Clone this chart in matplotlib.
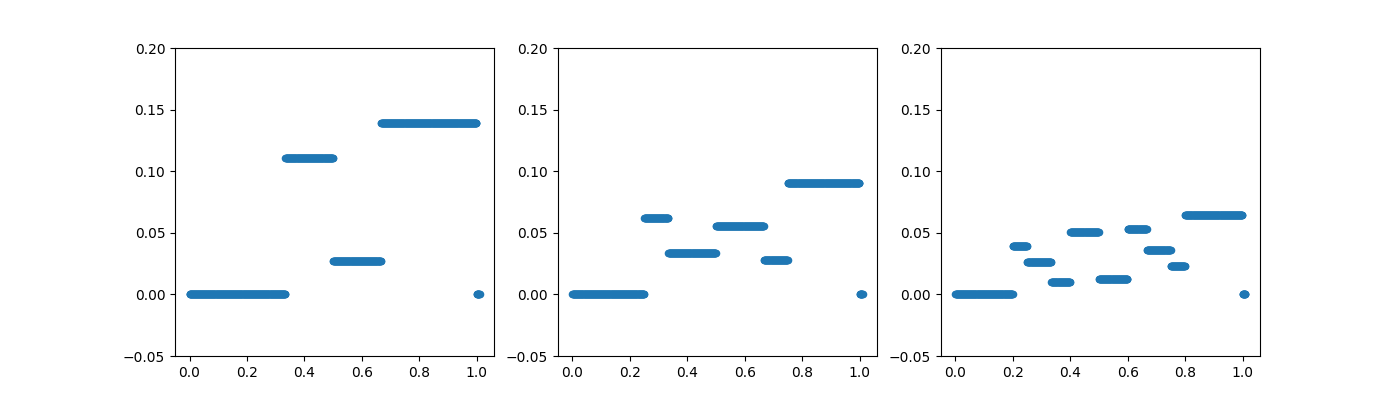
import numpy as np
import matplotlib
matplotlib.use("Agg")
import matplotlib.pyplot as plt

# breakpoints (left edge of each step) and step levels for each panel
breaks_1 = [0, 1/3, 1/2, 2/3, 1.0]
levels_1 = [0.0, 0.111, 0.0275, 0.139, 0.0]

breaks_2 = [0, 1/4, 1/3, 1/2, 2/3, 3/4, 1.0]
levels_2 = [0.0, 0.0623, 0.034, 0.0553, 0.0276, 0.0901, 0.0]

breaks_3 = [0, 0.2, 0.25, 1/3, 0.4, 0.5, 0.6, 2/3, 0.75, 0.8, 1.0]
levels_3 = [0.0, 0.0396, 0.0266, 0.0104, 0.0503, 0.0129, 0.0527, 0.0364, 0.0234, 0.0641, 0.0]

x_max = 1.01  # sampled range runs a little past 1

panels = [(breaks_1, levels_1), (breaks_2, levels_2), (breaks_3, levels_3)]

fig, axes = plt.subplots(1, 3, figsize=(14, 4))

x = np.linspace(0, x_max, 1011)

for ax, (breaks, levels) in zip(axes, panels):
    idx = np.searchsorted(breaks, x, side="right") - 1
    y = np.array(levels)[idx]
    ax.scatter(x, y, s=20)
    ax.set_ylim(-0.05, 0.2)

fig.savefig("out.png", dpi=100)
